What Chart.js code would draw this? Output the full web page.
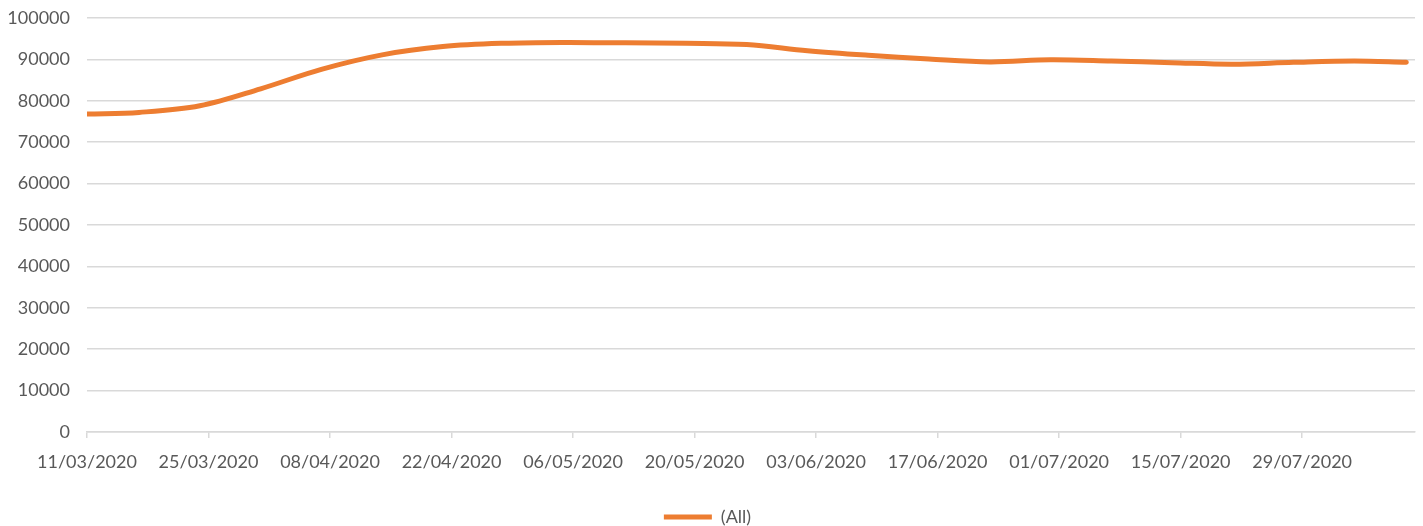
<!DOCTYPE html>
<html>
<head>
<meta charset="utf-8">
<script src="https://cdn.jsdelivr.net/npm/chart.js@4.4.1/dist/chart.umd.min.js"></script>
<style>
  html, body { margin: 0; padding: 0; background: #ffffff; }
  #wrap { width: 1423px; height: 526px; position: relative; }
</style>
</head>
<body>
<div id="wrap"><canvas id="chart" width="1423" height="526"></canvas></div>
<script>
// Series name
const seriesName = '(All)';

// Observation dates (dd/mm/yyyy)
const dates = [
  '11/03/2020', '17/03/2020', '24/03/2020', '31/03/2020', '07/04/2020',
  '14/04/2020', '21/04/2020', '28/04/2020', '05/05/2020', '12/05/2020',
  '19/05/2020', '26/05/2020', '02/06/2020', '09/06/2020', '16/06/2020',
  '23/06/2020', '30/06/2020', '07/07/2020', '14/07/2020', '21/07/2020',
  '28/07/2020', '04/08/2020', '10/08/2020'
];

// Values for each date
const values = [
  76800, 77200, 78800, 82900, 87600,
  91100, 93100, 93900, 94100, 94000,
  93900, 93600, 92100, 91000, 90100,
  89400, 89900, 89600, 89200, 88850,
  89300, 89600, 89300
];

// Axis settings
const startDate = '11/03/2020';
const endDate = '11/08/2020';
const tickStepDays = 14;
const yMin = 0, yMax = 100000, yStep = 10000;

const DAY = 86400000;
function parseDate(s) {
  const [d, m, y] = s.split('/').map(Number);
  return Date.UTC(y, m - 1, d);
}
const t0 = parseDate(startDate);
function dayOffset(s) { return Math.round((parseDate(s) - t0) / DAY); }
function formatDay(n) {
  const dt = new Date(t0 + n * DAY);
  const dd = String(dt.getUTCDate()).padStart(2, '0');
  const mm = String(dt.getUTCMonth() + 1).padStart(2, '0');
  return dd + '/' + mm + '/' + dt.getUTCFullYear();
}

const points = dates.map((d, i) => ({ x: dayOffset(d), y: values[i] }));

const FONT = "Lato, 'Open Sans', sans-serif";
const TEXT = '#595959';
const GRID = '#d9d9d9';
const ORANGE = '#ED7D31';

new Chart(document.getElementById('chart'), {
  type: 'line',
  data: {
    datasets: [{
      label: seriesName,
      data: points,
      borderColor: ORANGE,
      backgroundColor: ORANGE,
      borderWidth: 5,
      borderCapStyle: 'round',
      borderJoinStyle: 'round',
      pointRadius: 0,
      tension: 0.35,
      fill: false
    }]
  },
  options: {
    responsive: false,
    animation: false,
    layout: { padding: { left: 0, right: 8, top: 18, bottom: -10 } },
    plugins: {
      tooltip: { enabled: false },
      legend: {
        position: 'bottom',
        labels: {
          color: TEXT,
          font: { family: FONT, size: 18 },
          usePointStyle: true,
          pointStyle: 'line',
          pointStyleWidth: 48,
          boxWidth: 41,
          boxHeight: 5,
          padding: 1
        }
      }
    },
    scales: {
      x: {
        type: 'linear',
        min: 0,
        max: dayOffset(endDate),
        afterBuildTicks: (scale) => {
          const ticks = [];
          for (let v = 0; v <= scale.max; v += tickStepDays) ticks.push({ value: v });
          scale.ticks = ticks;
        },
        afterFit: (scale) => { scale.height = 75; },
        ticks: {
          color: TEXT,
          font: { family: FONT, size: 18 },
          maxRotation: 0,
          autoSkip: false,
          padding: 13,
          callback: (v) => formatDay(v)
        },
        grid: { drawOnChartArea: false, drawTicks: true, tickLength: 6, color: GRID, lineWidth: 1.5 },
        border: { display: true, color: GRID, width: 1.5 }
      },
      y: {
        min: yMin,
        max: yMax,
        afterFit: (scale) => {
          scale.width = 87;
          scale.paddingTop = 0;
          scale.paddingBottom = 0;
        },
        ticks: {
          stepSize: yStep,
          color: TEXT,
          font: { family: FONT, size: 18 },
          padding: 17,
          callback: (v) => String(v)
        },
        grid: { color: GRID, lineWidth: 1.5, drawTicks: false },
        border: { display: false }
      }
    }
  }
});
</script>
</body>
</html>
